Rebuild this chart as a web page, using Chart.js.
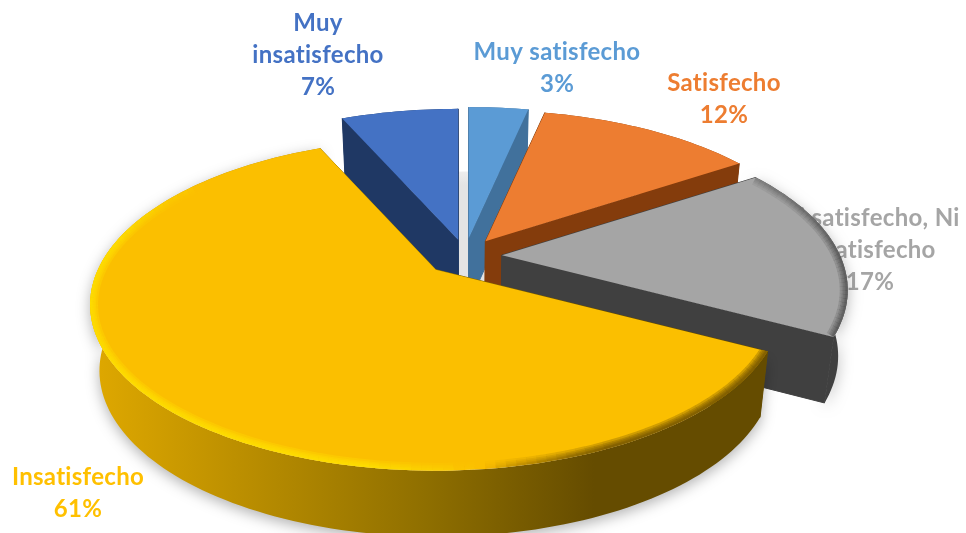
<!DOCTYPE html>
<html>
<head>
<meta charset="utf-8">
<script src="https://cdn.jsdelivr.net/npm/chart.js@4"></script>
<style>
    html, body { margin: 0; padding: 0; background: #fff; overflow: hidden; }
    canvas { display: block; }
</style>
</head>
<body>
<canvas id="myChart" width="966" height="533"></canvas>
<script>
const categories = ['Muy satisfecho', 'Satisfecho', 'Ni satisfecho, Ni insatisfecho', 'Insatisfecho', 'Muy insatisfecho'];
const values = [3.4, 12.4, 16.9, 60.6, 6.7];

const topColors = ['#5B9BD5', '#ED7D31', '#A5A5A5', '#FBBF00', '#4472C4'];
const labelColors = ['#5B9BD5', '#ED7D31', '#A5A5A5', '#FFC000', '#4472C4'];
const wallColors = ['#41719C', '#843C0C', '#404040', null, '#1F3864'];
const explode = [36, 36, 37, 40, 33];
const drawOrder = [4, 0, 1, 2, 3];

// label layout, one entry per category
const labelLines = [['Muy satisfecho'], ['Satisfecho'], ['Ni satisfecho, Ni', 'insatisfecho'], ['Insatisfecho'], ['Muy', 'insatisfecho']];
const labelX = [557, 724, 870, 78, 318];
const labelTop = [52, 83, 218, 477, 23];
const LINE_H = 32;

// fake 3d view: each slice goes through a perspective projection, then is moved by its offset
const VIEW = { x: 465, y: 256, r: 338, squash: 0.4693, persp: 0.2108, depth: 66, taper: 0.025, offsetY: 0.5 };

function project(u, v) {
    const w = 1 - VIEW.persp * v;
    return { x: VIEW.r * u / w, y: VIEW.r * VIEW.squash * v / w };
}

function sliceOrigin(arc) {
    const mid = (arc.startAngle + arc.endAngle) / 2;
    return {
        x: VIEW.x + arc.options.offset * Math.cos(mid),
        y: VIEW.y + arc.options.offset * Math.sin(mid) * VIEW.offsetY
    };
}

function rimPoints(arc) {
    const origin = sliceOrigin(arc);
    const pts = [];
    const steps = Math.ceil((arc.endAngle - arc.startAngle) * 40);
    for (let i = 0; i <= steps; i++) {
        const a = arc.startAngle + (arc.endAngle - arc.startAngle) * i / steps;
        const u = Math.cos(a), v = Math.sin(a);
        const p = project(u, v);
        pts.push({ x: origin.x + p.x, y: origin.y + p.y, u: u, v: v });
    }
    return pts;
}

function tracePath(ctx, pts) {
    ctx.beginPath();
    pts.forEach((p, i) => i ? ctx.lineTo(p.x, p.y) : ctx.moveTo(p.x, p.y));
    ctx.closePath();
}

// bottom edge of the pie, a little narrower than the top
const lowered = p => ({ x: p.x + (VIEW.x - p.x) * VIEW.taper, y: p.y + VIEW.depth });

function drawWalls(ctx, arc, fill, shadow) {
    const rim = rimPoints(arc);
    const apex = sliceOrigin(arc);
    ctx.save();
    ctx.fillStyle = fill;
    ctx.strokeStyle = fill;
    ctx.lineWidth = 1;
    if (shadow) {
        ctx.shadowColor = 'rgba(0,0,0,0.3)';
        ctx.shadowBlur = 14;
        ctx.shadowOffsetY = 4;
    }
    tracePath(ctx, rim.concat(rim.map(lowered).reverse()));
    ctx.fill();
    ctx.shadowColor = 'transparent';
    [rim[0], rim[rim.length - 1]].forEach(p => {
        tracePath(ctx, [apex, p, lowered(p), lowered(apex)]);
        ctx.fill();
        ctx.stroke();
    });
    ctx.restore();
}

function drawTop(ctx, arc, color, rimStyle) {
    const rim = rimPoints(arc);
    ctx.save();
    tracePath(ctx, [sliceOrigin(arc)].concat(rim));
    ctx.fillStyle = color;
    ctx.fill();
    if (rimStyle) {
        ctx.clip();
        [16, 12, 9, 6, 4].forEach(width => {
            ctx.lineWidth = width;
            for (let i = 1; i < rim.length; i++) {
                ctx.strokeStyle = rimStyle(rim[i]);
                ctx.beginPath();
                ctx.moveTo(rim[i - 1].x, rim[i - 1].y);
                ctx.lineTo(rim[i].x, rim[i].y);
                ctx.stroke();
            }
        });
    }
    ctx.restore();
}

const clamp01 = t => Math.max(0, Math.min(1, t));

function yellowRim(p) {
    const fade = clamp01((p.v + 0.65) / 0.5);
    if (p.u < 0.1) {
        return 'rgba(255,226,0,' + (0.3 * fade * clamp01((0.1 - p.u) / 0.3)) + ')';
    }
    return 'rgba(110,80,0,' + (0.3 * clamp01((p.u - 0.1) / 0.3)) + ')';
}

function greyRim(p) {
    return 'rgba(50,50,50,' + (0.04 + 0.12 * clamp01((p.v + 0.7) / 0.7)) + ')';
}

function drawLabels(ctx) {
    ctx.save();
    ctx.font = 'bold 24px Lato';
    ctx.letterSpacing = '0.3px';
    ctx.textAlign = 'center';
    ctx.textBaseline = 'middle';
    categories.forEach((name, i) => {
        ctx.fillStyle = labelColors[i];
        const lines = labelLines[i].concat(Math.round(values[i]) + '%');
        lines.forEach((line, k) => ctx.fillText(line, labelX[i], labelTop[i] + k * LINE_H));
    });
    ctx.restore();
}

const pie3d = {
    id: 'pie3d',
    beforeDatasetsDraw(chart) {
        const ctx = chart.ctx;
        const arcs = chart.getDatasetMeta(0).data;
        drawLabels(ctx);

        // soft floor shade that shows through the gap between the two blue slices
        const floor = [];
        for (let i = 0; i < 60; i++) {
            const a = i / 60 * Math.PI * 2;
            const p = project(0.6 * Math.cos(a), 0.6 * Math.sin(a));
            floor.push({ x: VIEW.x + p.x, y: VIEW.y + p.y });
        }
        const shade = ctx.createLinearGradient(0, 160, 0, 185);
        shade.addColorStop(0, '#F6F6F6');
        shade.addColorStop(1, '#E4E4E4');
        ctx.fillStyle = shade;
        tracePath(ctx, floor);
        ctx.fill();

        const gold = ctx.createLinearGradient(88, 0, 763, 0);
        gold.addColorStop(0, '#E0A900');
        gold.addColorStop(0.5, '#8F6F00');
        gold.addColorStop(0.75, '#654C00');
        gold.addColorStop(1, '#654C00');

        drawOrder.forEach(i => {
            drawWalls(ctx, arcs[i], wallColors[i] || gold, i === 2 || i === 3);
            drawTop(ctx, arcs[i], topColors[i], i === 3 ? yellowRim : (i === 2 ? greyRim : null));
        });
        return false;
    }
};

const myChart = new Chart(document.getElementById('myChart').getContext('2d'), {
    type: 'pie',
    data: {
        labels: categories,
        datasets: [{
            data: values,
            backgroundColor: topColors,
            borderWidth: 0,
            offset: explode
        }]
    },
    options: {
        responsive: false,
        animation: false,
        plugins: {
            legend: { display: false },
            tooltip: { enabled: false }
        }
    },
    plugins: [pie3d]
});
</script>
</body>
</html>
